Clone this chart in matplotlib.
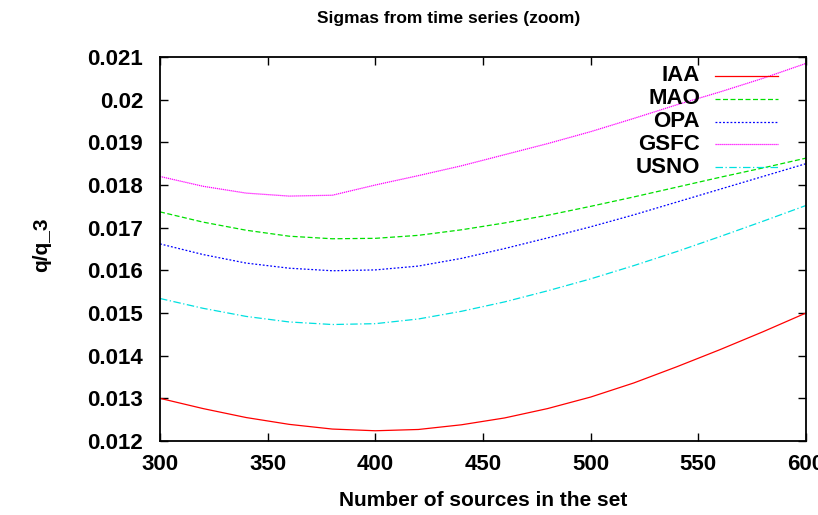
import numpy as np
import matplotlib
matplotlib.use("Agg")
import matplotlib.pyplot as plt

plt.rcParams['font.family'] = ['Liberation Sans', 'DejaVu Sans']
plt.rcParams['font.weight'] = 'bold'
plt.rcParams['axes.labelweight'] = 'bold'

# numero di sorgenti nel set
n_sources = [300, 320, 340, 360, 380, 400, 420, 440, 460, 480, 500, 520, 540, 560, 580, 600]

# sigma relative per ogni centro di analisi
iaa = [0.01300, 0.01276, 0.01255, 0.01239, 0.01228, 0.01224, 0.01227, 0.01238,
       0.01254, 0.01276, 0.01303, 0.01336, 0.01374, 0.01414, 0.01456, 0.01500]
mao = [0.01737, 0.01713, 0.01694, 0.01680, 0.01674, 0.01675, 0.01682, 0.01695,
       0.01711, 0.01729, 0.01750, 0.01772, 0.01795, 0.01818, 0.01840, 0.01863]
opa = [0.01662, 0.01637, 0.01617, 0.01605, 0.01599, 0.01601, 0.01610, 0.01628,
       0.01651, 0.01676, 0.01702, 0.01730, 0.01760, 0.01790, 0.01820, 0.01850]
gsfc = [0.01820, 0.01797, 0.01781, 0.01774, 0.01776, 0.01800, 0.01822, 0.01845,
        0.01871, 0.01897, 0.01925, 0.01956, 0.01988, 0.02018, 0.02050, 0.02085]
usno = [0.01534, 0.01511, 0.01492, 0.01479, 0.01473, 0.01475, 0.01486, 0.01504,
        0.01526, 0.01552, 0.01580, 0.01611, 0.01644, 0.01679, 0.01715, 0.01752]

labels = ["IAA", "MAO", "OPA", "GSFC", "USNO"]
x_ticks = [300, 350, 400, 450, 500, 550, 600]
y_ticks = [0.012, 0.013, 0.014, 0.015, 0.016, 0.017, 0.018, 0.019, 0.020, 0.021]
y_ticklabels = ["0.012", "0.013", "0.014", "0.015", "0.016", "0.017", "0.018",
                "0.019", "0.02", "0.021"]

series = [iaa, mao, opa, gsfc, usno]
colors = ["#ff0000", "#00e000", "#0000ff", "#ff00ff", "#00e0e0"]
dashes = [(), (4, 2), (1.5, 1.5), (1, 0.6), (6, 2, 1, 2)]

W, H = 818, 515
fig = plt.figure(figsize=(W / 100, H / 100), dpi=100)
# posizione assi in pixel: sinistra 160, destra 806, alto 57, basso 441
ax = fig.add_axes([160 / W, (H - 441) / H, 646 / W, 384 / H])

for ys, c, d in zip(series, colors, dashes):
    ln, = ax.plot(n_sources, ys, color=c, lw=0.9)
    if d:
        ln.set_dashes(d)

ax.set_xlim(300, 600)
ax.set_ylim(0.012, 0.021)
ax.set_xticks(x_ticks)
ax.set_xticklabels([str(t) for t in x_ticks])
ax.set_yticks(y_ticks)
ax.set_yticklabels(y_ticklabels)
ax.tick_params(direction="in", length=6, width=1, top=True, right=True,
               labelsize=16)
ax.tick_params(axis="y", pad=12)
ax.tick_params(axis="x", pad=9)
for lab in ax.get_xticklabels() + ax.get_yticklabels():
    lab.set_clip_on(False)
for s in ax.spines.values():
    s.set_linewidth(1.3)

ax.set_xlabel("Number of sources in the set", fontsize=15, labelpad=12)
ax.set_ylabel("q/q_3", fontsize=15)
ax.yaxis.set_label_coords(-0.168, 0.51)
fig.text(449 / W, 1 - 18 / H, "Sigmas from time series (zoom)", fontsize=12.5,
         ha="center", va="center")

# legenda a mano, testo allineato a destra e campione di linea
for i, (lab, c, d) in enumerate(zip(labels, colors, dashes)):
    yy = (441 - (75.7 + i * 22.9)) / 384
    ax.text(0.836, yy, lab, transform=ax.transAxes, ha="right", va="center",
            fontsize=16)
    ln, = ax.plot([0.859, 0.957], [yy, yy], transform=ax.transAxes, color=c, lw=0.9)
    if d:
        ln.set_dashes(d)

fig.savefig("out.png", dpi=100)
